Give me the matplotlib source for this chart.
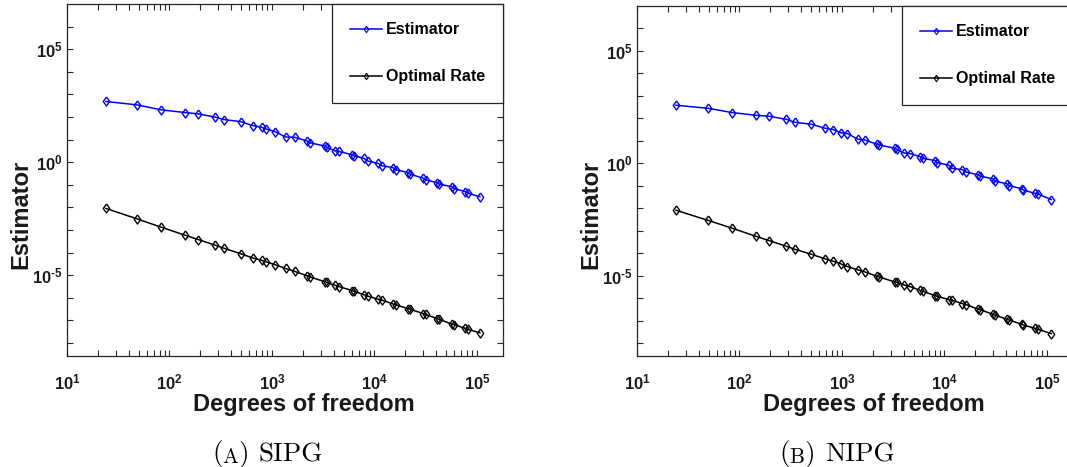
import matplotlib
matplotlib.use("Agg")
import matplotlib.pyplot as plt
from matplotlib.ticker import LogLocator, NullFormatter, FixedLocator

plt.rcParams['font.family'] = ['Liberation Sans', 'DejaVu Sans']
plt.rcParams['mathtext.fontset'] = 'custom'
plt.rcParams['mathtext.rm'] = 'Liberation Sans:bold'
plt.rcParams['mathtext.bf'] = 'Liberation Sans:bold'
plt.rcParams['mathtext.it'] = 'Liberation Sans:bold'

# ---------------- data ----------------
sipg_dof = [24, 48, 83, 142, 191, 281, 341, 493, 650, 796, 871, 1074, 1355, 1671,
            2203, 2323, 3304, 3428, 4102, 4487, 6053, 6281, 7816, 8670, 10940, 11885,
            15100, 16255, 21280, 22280, 30060, 31480, 40830, 43050, 56750, 60260,
            77270, 82030, 106660]
sipg_estimator = [485, 344, 207, 157, 137, 97.3, 76.6, 62.4, 41.4, 34.9, 29.4, 22.4,
                  13.0, 12.5, 8.61, 7.26, 5.15, 4.50, 3.19, 2.99, 2.12, 1.91, 1.51,
                  1.11, 0.873, 0.687, 0.579, 0.456, 0.347, 0.292, 0.194, 0.164, 0.124,
                  0.105, 0.0826, 0.0673, 0.0494, 0.0417, 0.0296]
sipg_rate = [8.97e-3, 3.11e-3, 1.32e-3, 5.83e-4, 3.74e-4, 2.09e-4, 1.54e-4, 8.91e-5,
             5.71e-5, 4.50e-5, 3.92e-5, 2.88e-5, 1.98e-5, 1.46e-5, 9.33e-6, 8.43e-6,
             5.05e-6, 4.72e-6, 3.59e-6, 3.13e-6, 2.08e-6, 1.94e-6, 1.38e-6, 1.16e-6,
             8.55e-7, 7.71e-7, 5.30e-7, 4.79e-7, 3.28e-7, 3.07e-7, 1.97e-7, 1.84e-7,
             1.18e-7, 1.10e-7, 6.82e-8, 6.37e-8, 4.38e-8, 3.94e-8, 2.81e-8]

nipg_dof = [24, 49, 85, 144, 194, 286, 345, 502, 687, 822, 977, 1127, 1432, 1663,
            2193, 2296, 3266, 3412, 4000, 4603, 5768, 6124, 8072, 8453, 11066, 11749,
            14928, 16218, 21380, 22030, 29720, 30830, 40460, 42270, 56620, 58340,
            75860, 81100, 110150]
nipg_estimator = [382, 281, 180, 137, 124, 90.8, 66.8, 54.5, 36.1, 31.6, 22.4, 20.9,
                  11.7, 10.9, 7.01, 6.55, 4.66, 4.20, 2.88, 2.69, 1.98, 1.67, 1.32,
                  1.07, 0.815, 0.598, 0.522, 0.411, 0.303, 0.273, 0.201, 0.158, 0.124,
                  0.101, 0.0745, 0.0650, 0.0462, 0.0432, 0.0242]
nipg_rate = [8.09e-3, 2.90e-3, 1.28e-3, 5.64e-4, 3.61e-4, 2.02e-4, 1.49e-4, 8.91e-5,
             5.52e-5, 4.35e-5, 3.30e-5, 2.52e-5, 1.79e-5, 1.46e-5, 9.33e-6, 8.73e-6,
             5.22e-6, 5.05e-6, 3.85e-6, 3.24e-6, 2.22e-6, 2.01e-6, 1.29e-6, 1.20e-6,
             8.55e-7, 7.98e-7, 5.68e-7, 5.12e-7, 3.17e-7, 3.07e-7, 1.90e-7, 1.77e-7,
             1.14e-7, 1.06e-7, 6.82e-8, 6.37e-8, 4.53e-8, 4.08e-8, 2.62e-8]

series_labels = ['Estimator', 'Optimal Rate']
x_tick_values = [1e1, 1e2, 1e3, 1e4, 1e5]
x_tick_labels = [r'$\mathbf{10^{1}}$', r'$\mathbf{10^{2}}$', r'$\mathbf{10^{3}}$',
                 r'$\mathbf{10^{4}}$', r'$\mathbf{10^{5}}$']
y_tick_values = [1e-5, 1e0, 1e5]
y_tick_labels = [r'$\mathbf{10^{\text{-}5}}$', r'$\mathbf{10^{0}}$', r'$\mathbf{10^{5}}$']
y_minor_values = [1e-8, 1e-7, 1e-6, 1e-4, 1e-3, 1e-2, 1e-1, 1e1, 1e2, 1e3, 1e4, 1e6]
x_label = 'Degrees of freedom'
y_label = 'Estimator'
captions = [('A', 'SIPG'), ('B', 'NIPG')]

# ---------------- figure ----------------
W, H = 1067, 467
fig = plt.figure(figsize=(W / 100, H / 100), dpi=100)

def fx(px):
    return px / W

def fy(py):
    return 1 - py / H

diamond = [(0, 1), (0.72, 0), (0, -1), (-0.72, 0), (0, 1)]
axes_px = [(67, 4, 503, 356), (637, 6, 1073, 356)]
panels = [(sipg_dof, sipg_estimator, sipg_rate), (nipg_dof, nipg_estimator, nipg_rate)]
spine_col = '#262626'

for i, ((l, t, r, b), (dof, est, rate)) in enumerate(zip(axes_px, panels)):
    ax = fig.add_axes([fx(l), fy(b), (r - l) / W, (b - t) / H])
    ax.loglog(dof, est, color='#0000ff', lw=1.1, marker=diamond, ms=6.5, mfc='none',
              mew=1.0, label=series_labels[0])
    ax.loglog(dof, rate, color='black', lw=1.1, marker=diamond, ms=6.5, mfc='none',
              mew=1.0, label=series_labels[1])
    ax.set_xlim(10, 10 ** 5.254)
    ax.set_ylim(10 ** -8.58, 10 ** 7.0)

    ax.set_xticks(x_tick_values)
    ax.set_xticklabels(x_tick_labels)
    ax.xaxis.set_minor_locator(LogLocator(base=10, subs=range(2, 10), numticks=20))
    ax.xaxis.set_minor_formatter(NullFormatter())
    ax.set_yticks(y_tick_values)
    ax.set_yticklabels(y_tick_labels)
    ax.yaxis.set_minor_locator(FixedLocator(y_minor_values))
    ax.yaxis.set_minor_formatter(NullFormatter())

    ax.tick_params(which='both', direction='in', top=True, right=True,
                   length=4, width=0.8, color=spine_col, labelcolor='#1a1a1a',
                   labelsize=12)
    ax.tick_params(axis='x', which='major', pad=12)
    ax.tick_params(axis='y', which='major', pad=3)
    for sp in ax.spines.values():
        sp.set_color(spine_col)
        sp.set_linewidth(0.9)

    leg = ax.legend(loc='upper right', bbox_to_anchor=(1.0, 1.0), borderaxespad=0,
                    prop={'weight': 'bold', 'size': 11.5},
                    frameon=True, fancybox=False, edgecolor=spine_col,
                    framealpha=1, borderpad=1.15, labelspacing=2.0,
                    handlelength=1.95, handletextpad=0.25, numpoints=1,
                    markerscale=0.7)
    leg.get_frame().set_linewidth(0.9)
    for h in leg.legend_handles:
        h.set_markeredgewidth(0.8)

    cx = (l + r) / 2 + 18.5
    fig.text(fx(cx), fy(405), x_label, ha='center', va='center',
             fontsize=17, fontweight='bold', color='#1a1a1a')
    fig.text(fx(l - 46), fy(214), y_label, ha='center', va='center',
             rotation=90, fontsize=17, fontweight='bold', color='#1a1a1a')

# captions: "(A) SIPG" with a small-caps letter
cap_left = [212, 779]
fs = 19.5
for (letter, name), lx in zip(captions, cap_left):
    t1 = fig.text(fx(lx), fy(460), '(', ha='left', va='baseline',
                  fontsize=fs, family='cmr10')
    a2 = plt.annotate(letter, xy=(1, 0), xycoords=t1, va='bottom', ha='left',
                      fontsize=fs * 0.78, family='cmr10', annotation_clip=False)
    a3 = plt.annotate(')', xy=(1, 0), xycoords=a2, va='bottom', ha='left',
                      fontsize=fs, family='cmr10', annotation_clip=False)
    a4 = plt.annotate(name, xy=(1, 0), xycoords=a3, xytext=(7, 0),
                      textcoords='offset points', va='bottom', ha='left',
                      fontsize=fs, family='cmr10', annotation_clip=False)

fig.savefig('out.png', dpi=100)
